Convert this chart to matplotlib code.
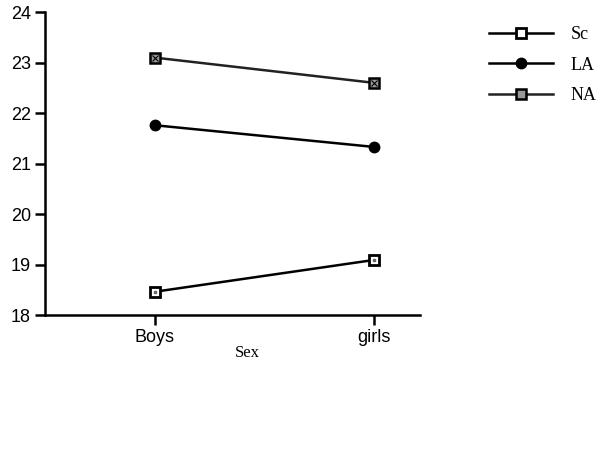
import matplotlib
matplotlib.use("Agg")
import matplotlib.pyplot as plt

groups = ["Boys", "girls"]
sc = [18.46, 19.09]
la = [21.76, 21.33]
na = [23.10, 22.60]
yticks = [18, 19, 20, 21, 22, 23, 24]

fig = plt.figure(figsize=(5.99, 4.5), dpi=100)
ax = fig.add_axes([0.075, 0.30, 0.626, 0.673])

x = list(range(len(groups)))
ax.plot(x, sc, color="black", lw=1.8, marker="s", ms=7.5, mfc="white",
        mec="black", mew=2, label="Sc")
ax.plot(x, sc, ls="none", marker="s", ms=2, mfc="#666666", mec="#666666")
ax.plot(x, la, color="black", lw=1.8, marker="o", ms=7.5, mfc="black",
        mec="black", label="LA")
ax.plot(x, na, color="#222222", lw=1.8, marker="s", ms=7.5, mfc="#999999",
        mec="black", mew=1.8, label="NA")
ax.plot(x, na, ls="none", marker="x", ms=4, mec="black", mew=0.8)

ax.set_xlim(-0.5, 1.21)
ax.set_ylim(18, 24)
ax.set_yticks(yticks)
ax.set_xticks(x)
ax.set_xticklabels(groups)
for lab in ax.get_xticklabels() + ax.get_yticklabels():
    lab.set_family("Liberation Sans")
    lab.set_fontsize(13)
ax.tick_params(axis="both", direction="out", length=7, width=1.8, pad=3)
for s in ["top", "right"]:
    ax.spines[s].set_visible(False)
for s in ["left", "bottom"]:
    ax.spines[s].set_linewidth(1.8)

ax.set_xlabel("Sex", family="Liberation Serif", fontsize=12)
ax.xaxis.set_label_coords(0.54, -0.098)

handles, labels = ax.get_legend_handles_labels()
leg = fig.legend(handles, labels, loc="upper left", bbox_to_anchor=(0.79, 0.978),
                 frameon=False, handlelength=3.5, handletextpad=1.0,
                 labelspacing=0.75, prop={"family": "Liberation Serif", "size": 13})

fig.savefig("out.png", dpi=100)
